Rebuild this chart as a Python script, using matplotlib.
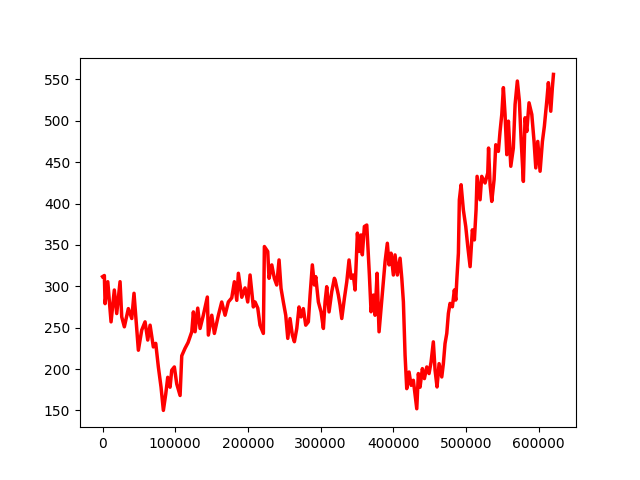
import matplotlib
matplotlib.use("Agg")
import matplotlib.pyplot as plt

# readings (x in thousands of samples)
x_k = [0, 2.5, 3.5, 7.2, 11.7, 16.2, 19.5, 24.1, 26.4, 30.0,
       35.5, 40.2, 43.3, 46.5, 49.3, 53.9, 58.5, 62.2, 65.4, 69.9,
       73.2, 76.8, 80.5, 83.7, 87.0, 89.7, 92.9, 95.2, 98.8, 102.1,
       106.7, 109.0, 113.5, 117.7, 122.8, 125.0, 127.3, 131.0, 134.2, 138.7,
       144.2, 145.6, 150.3, 153.9, 159.4, 164.0, 168.6, 173.1, 177.8, 181.4,
       184.7, 186.9, 191.6, 196.1, 199.8, 203.0, 207.5, 209.9, 213.6, 216.7,
       221.3, 222.7, 227.3, 229.1, 232.9, 236.4, 239.7, 242.9, 245.6, 248.8,
       252.1, 254.9, 258.0, 261.2, 264.0, 267.3, 270.4, 273.2, 276.3, 279.6,
       283.2, 285.6, 288.7, 291.5, 293.4, 297.0, 300.7, 303.9, 306.2, 308.5,
       311.7, 315.4, 319.0, 320.1, 324.5, 326.8, 329.2, 332.8, 336.1, 339.2,
       342.0, 345.1, 347.5, 350.7, 353.0, 355.7, 357.5, 360.3, 363.6, 365.0,
       367.2, 369.5, 372.7, 375.0, 377.8, 380.5, 383.3, 386.4, 388.8, 391.9,
       394.3, 397.0, 400.2, 402.5, 405.7, 409.4, 411.8, 414.0, 416.3, 418.6,
       421.8, 424.6, 427.7, 432.4, 434.6, 436.9, 440.1, 442.9, 446.2, 449.3,
       452.1, 455.2, 457.6, 460.3, 463.1, 466.8, 469.0, 471.3, 473.7, 475.9,
       478.2, 481.4, 484.1, 486.1, 487.5, 489.7, 491.0, 493.4, 496.5, 499.8,
       502.6, 505.8, 508.9, 511.7, 514.0, 515.4, 519.5, 521.8, 526.4, 530.1,
       531.2, 533.3, 535.6, 538.8, 541.1, 544.7, 547.0,
       549.4, 551.6, 553.9, 556.3, 558.5, 561.8, 565.3, 567.7, 570.8, 573.6,
       575.9, 579.1, 581.4, 583.8, 586.9, 590.7, 593.8, 596.2, 598.9, 602.1,
       605.3, 608.0, 611.3, 613.5, 616.8, 619.0, 620.5]
values = [311.6, 313, 279, 305.5, 257, 295.5, 267, 305.5, 263, 251,
          273, 261, 291.5, 255, 222.7, 247, 257, 235, 253, 226.7,
          231, 202.5, 178, 150, 170, 190, 178, 198.5, 202.5, 182,
          168, 216, 225, 232, 245, 269, 245, 273.6, 249, 265,
          287, 241, 265, 243, 265, 281, 265, 281, 286, 305.5,
          283, 315.7, 286.7, 298, 281, 313.6, 275, 281, 273.6, 253,
          243, 348, 342, 309.6, 325.8, 309.6, 301.5, 331.8, 297.5, 281,
          265, 237, 261, 241, 233, 249, 275, 263, 273, 253,
          257, 289.4, 325.8, 301.5, 311.6, 281, 269, 249, 281, 299.5,
          269, 293.4, 309.6, 307.6, 289.4, 277.3, 261, 285.4, 305.5, 331.8,
          309.6, 313.6, 295.5, 364.2, 342, 362, 338, 372.2, 374, 350,
          313.6, 269.2, 289.4, 265, 315.7, 245, 273.3, 305.5, 329.8, 352,
          325.8, 340, 313.6, 337.9, 313.6, 333.9, 309.6, 281, 216.7, 176.3,
          196.4, 180.3, 186.4, 152, 194.5, 178, 200.5, 188.4, 202.5, 194.5,
          208.5, 232.8, 198.5, 178.3, 206.5, 190.4, 206.5, 230.8, 243, 267.2,
          279.3, 275.2, 295.5, 283.3, 307.6, 340, 404.5, 422.7, 392.4, 372.2,
          348, 323.7, 368.2, 356, 392.4, 432.8, 404.5, 432.8, 424.8, 436.9,
          467, 422.7, 402.5, 428.8, 471, 463, 487,
          507.6, 540, 507.6, 459, 499.5, 445, 467, 519.7, 548, 523.7,
          479, 426.7, 503.6, 487, 521.7, 507.6, 475, 443, 475, 439,
          475, 493.4, 523.7, 546, 511.5, 540, 556]

x = [v * 1000 for v in x_k]

fig, ax = plt.subplots(figsize=(6.4, 4.8), dpi=100)
ax.plot(x, values, color="red", linewidth=2.5)
fig.savefig("out.png")
